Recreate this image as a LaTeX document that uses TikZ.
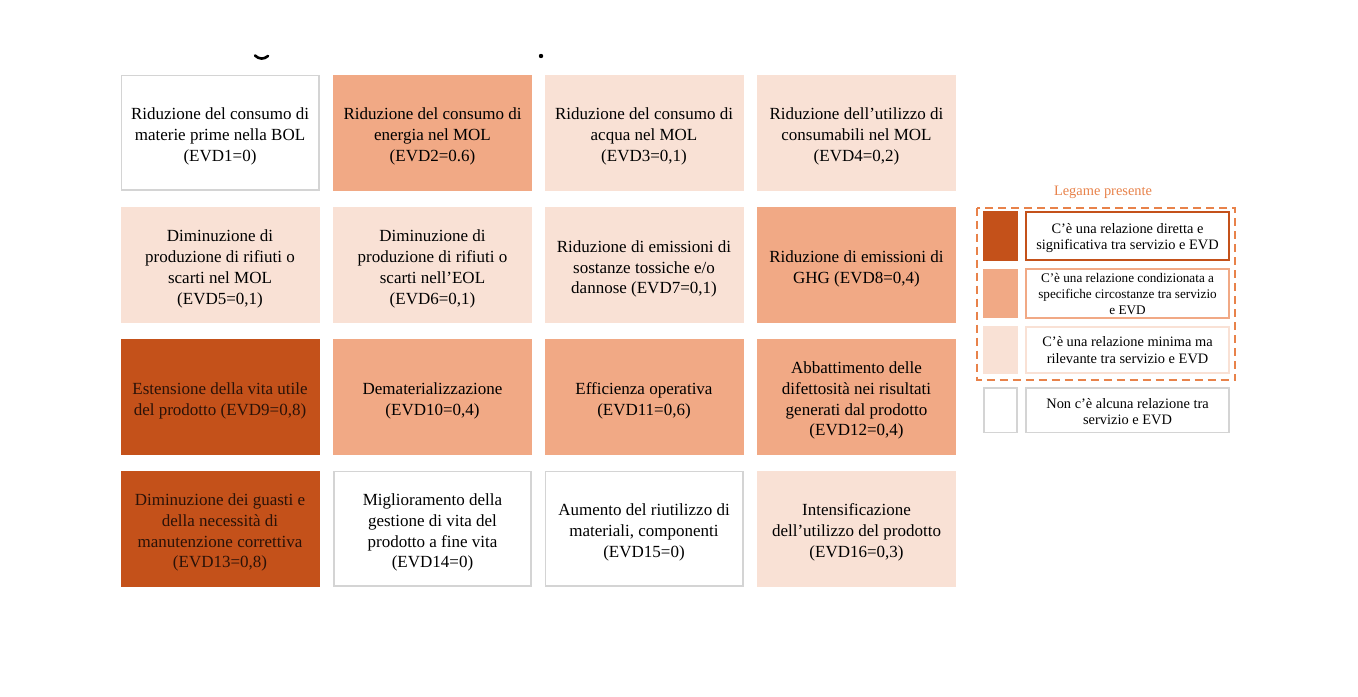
\documentclass[tikz,border=0pt]{standalone}
\usepackage{fontspec}
\setmainfont{Liberation Serif}
\definecolor{dk}{HTML}{C4511A}
\definecolor{md}{HTML}{F1A985}
\definecolor{lt}{HTML}{F9E1D5}
\definecolor{gr}{HTML}{D4D4D4}
\definecolor{lg}{HTML}{E8824A}
\definecolor{dtext}{HTML}{2A1208}
\newcommand{\celltext}[2][2pt]{\raisebox{-#1}[\height][\depth]{\begin{tabular}{@{}c@{}}#2\end{tabular}}}
\tikzset{
  cell/.style={rectangle, minimum width=99.5pt, minimum height=58pt, inner sep=0pt,
    font=\fontsize{8.5}{10.4}\selectfont, text=black},
  c0/.style={cell, fill=white, draw=gr, line width=0.8pt, minimum width=98.7pt, minimum height=57.2pt},
  c1/.style={cell, fill=lt},
  c2/.style={cell, fill=md},
  c3/.style={cell, fill=dk, text=dtext},
  legsq/.style={rectangle, minimum width=17.5pt, inner sep=0pt},
  legtx/.style={rectangle, minimum width=101.5pt, inner sep=0pt, line width=1pt,
    font=\fontsize{7.2}{8.35}\selectfont, text=black},
}
\begin{document}
\begin{tikzpicture}[x=0.5pt,y=-0.5pt]
\useasboundingbox[fill=white] (0,0) rectangle (1358,696);
% fragments of a cut-off title
\draw[line width=1.3pt, line cap=round] (255,55.5) .. controls (259,59.5) and (264,59.5) .. (268,56);
\fill (541,56) circle (2.2);
% row 1
\node[c0] (e1) at (220,132.5) {\celltext{Riduzione del consumo di\\materie prime nella BOL\\(EVD1=0)}};
\node[c2] (e2) at (432.5,132.5) {\celltext{Riduzione del consumo di\\energia nel MOL\\(EVD2=0.6)}};
\node[c1] (e3) at (644,132.5) {\celltext{Riduzione del consumo di\\acqua nel MOL\\(EVD3=0,1)}};
\node[c1] (e4) at (856.5,132.5) {\celltext{Riduzione dell’utilizzo di\\consumabili nel MOL\\(EVD4=0,2)}};
% row 2
\node[c1] (e5) at (220,265) {\celltext{Diminuzione di\\produzione di rifiuti o\\scarti nel MOL\\(EVD5=0,1)}};
\node[c1] (e6) at (432.5,265) {\celltext{Diminuzione di\\produzione di rifiuti o\\scarti nell’EOL\\(EVD6=0,1)}};
\node[c1] (e7) at (644,265) {\celltext{Riduzione di emissioni di\\sostanze tossiche e/o\\dannose (EVD7=0,1)}};
\node[c2] (e8) at (856.5,265) {\celltext{Riduzione di emissioni di\\GHG (EVD8=0,4)}};
% row 3
\node[c3] (e9) at (220,396.5) {\celltext{Estensione della vita utile\\del prodotto (EVD9=0,8)}};
\node[c2] (e10) at (432.5,396.5) {\celltext{Dematerializzazione\\(EVD10=0,4)}};
\node[c2] (e11) at (644,396.5) {\celltext{Efficienza operativa\\(EVD11=0,6)}};
\node[c2] (e12) at (856.5,396.5) {\celltext{Abbattimento delle\\difettosità nei risultati\\generati dal prodotto\\(EVD12=0,4)}};
% row 4
\node[c3] (e13) at (220,528.5) {\celltext{Diminuzione dei guasti e\\della necessità di\\manutenzione correttiva\\(EVD13=0,8)}};
\node[c0] (e14) at (432.5,528.5) {\celltext{Miglioramento della\\gestione di vita del\\prodotto a fine vita\\(EVD14=0)}};
\node[c0] (e15) at (644,528.5) {\celltext{Aumento del riutilizzo di\\materiali, componenti\\(EVD15=0)}};
\node[c1] (e16) at (856.5,528.5) {\celltext{Intensificazione\\dell’utilizzo del prodotto\\(EVD16=0,3)}};
% legend
\node[text=lg, font=\fontsize{7.2}{8.35}\selectfont, inner sep=0pt] (lt) at (1103,192) {Legame presente};
\draw[lg, line width=1pt, dash pattern=on 4pt off 2.5pt] (977,207.5) rectangle (1235,380);
\node[legsq, fill=dk, minimum height=24.75pt] (s1) at (1000.5,236.2) {};
\node[legsq, fill=md, minimum height=24.5pt] (s2) at (1000.5,293.5) {};
\node[legsq, fill=lt, minimum height=24pt] (s3) at (1000.5,350) {};
\node[legsq, draw=gr, line width=0.8pt, minimum height=22.2pt, minimum width=16.7pt] (s4) at (1000.5,410.3) {};
\node[legtx, draw=dk, minimum height=23.75pt] (t1) at (1127.5,236.2) {\celltext[1pt]{C’è una relazione diretta e\\significativa tra servizio e EVD}};
\node[legtx, draw=md, minimum height=23.5pt, font=\fontsize{6.6}{8.1}\selectfont] (t2) at (1127.5,293.5) {\celltext[0.8pt]{C’è una relazione condizionata a\\specifiche circostanze tra servizio\\e EVD}};
\node[legtx, draw=lt, minimum height=23pt] (t3) at (1127.5,350) {\celltext[1pt]{C’è una relazione minima ma\\rilevante tra servizio e EVD}};
\node[legtx, draw=gr, line width=0.8pt, minimum height=22.2pt, minimum width=101.7pt] (t4) at (1127.5,410.3) {\celltext[1.5pt]{Non c’è alcuna relazione tra\\servizio e EVD}};
\end{tikzpicture}
\end{document}
